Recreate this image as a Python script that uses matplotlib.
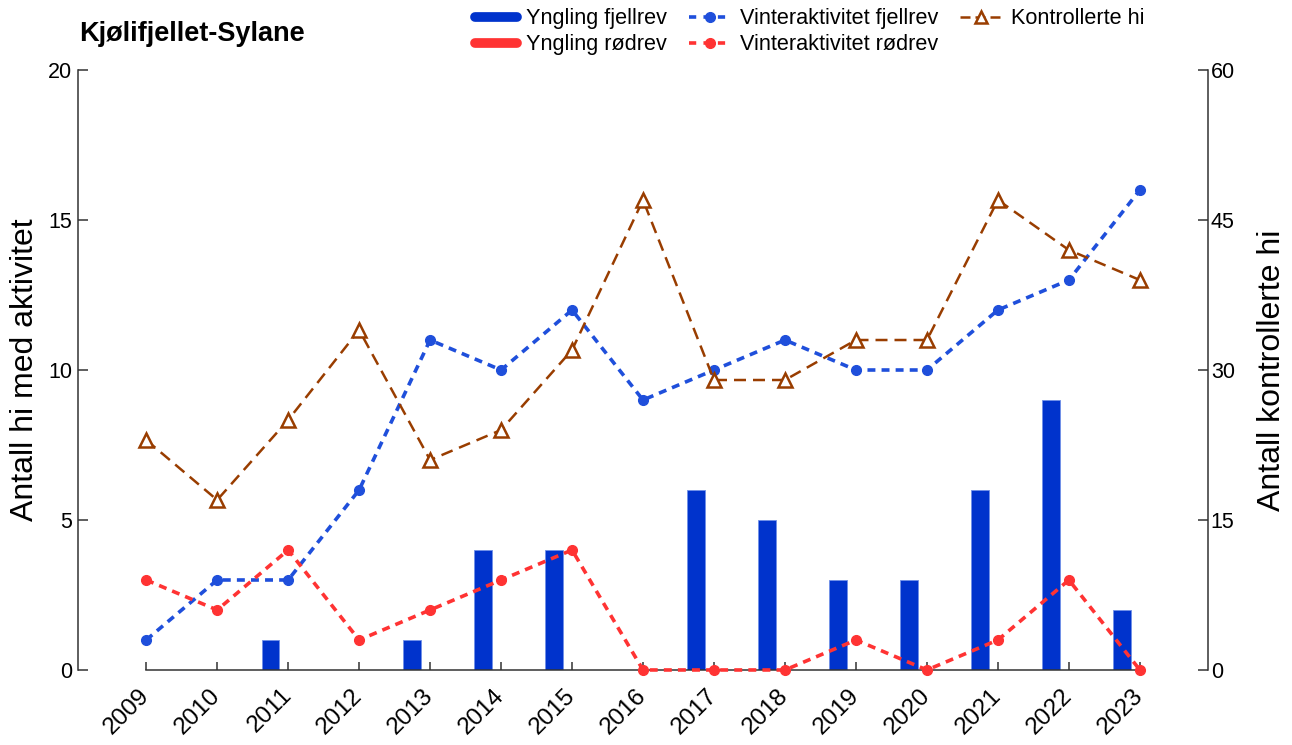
"""Kjølifjellet-Sylane: yngling, vinteraktivitet og kontrollerte hi."""

import matplotlib

matplotlib.use("Agg")
import matplotlib.pyplot as plt
import numpy as np
from matplotlib.lines import Line2D

plt.rcParams["font.family"] = ["Liberation Sans", "DejaVu Sans"]

years = np.arange(2009, 2024)
yngling_fjellrev = [0, 0, 1, 0, 1, 4, 4, 0, 6, 5, 3, 3, 6, 9, 2]
yngling_rodrev = [0, 0, 0, 0, 0, 0, 0, 0, 0, 0, 0, 0, 0, 0, 0]
vinter_fjellrev = [1, 3, 3, 6, 11, 10, 12, 9, 10, 11, 10, 10, 12, 13, 16]
vinter_rodrev = [3, 2, 4, 1, 2, 3, 4, 0, 0, 0, 1, 0, 1, 3, 0]
kontrollerte_hi = [23, 17, 25, 34, 21, 24, 32, 47, 29, 29, 33, 33, 47, 42, 39]

BAR_BLUE = "#0033cc"
LINE_BLUE = "#1f4fdb"
RED = "#ff3333"
BROWN = "#993d00"
SPINE = "#333333"

fig = plt.figure(figsize=(12.92, 7.45), dpi=100)
ax = fig.add_axes([0.0604, 0.1007, 0.8746, 0.8053])
ax2 = ax.twinx()

# bars (rødrev is all zero, kept for completeness)
ax.bar(years - 0.25, yngling_fjellrev, width=0.25, color=BAR_BLUE,
       edgecolor="#7090e8", linewidth=0.6, zorder=2)
ax.bar(years, yngling_rodrev, width=0.25, color=RED, linewidth=0, zorder=2)

ax.plot(years, vinter_fjellrev, color=LINE_BLUE, lw=2.6, dashes=(2.2, 1.7),
        marker="o", markersize=7, zorder=3, clip_on=False)
ax.plot(years, vinter_rodrev, color=RED, lw=2.6, dashes=(2.2, 1.7),
        marker="o", markersize=7, zorder=3, clip_on=False)

ax2.plot(years, kontrollerte_hi, color=BROWN, lw=1.8, dashes=(4.8, 2.8),
         marker="^", markersize=10, markerfacecolor="white",
         markeredgecolor=BROWN, markeredgewidth=1.8, clip_on=False)

ax.set_xlim(2008.04, 2023.96)
ax.set_ylim(0, 20)
ax2.set_ylim(0, 60)
ax.set_yticks([0, 5, 10, 15, 20])
ax2.set_yticks([0, 15, 30, 45, 60])
ax.set_xticks(years)
ax.set_xticklabels([str(y) for y in years], rotation=45, ha="right",
                   va="center", rotation_mode="anchor")

for a in (ax, ax2):
    a.spines["top"].set_visible(False)
    for s in a.spines.values():
        s.set_color(SPINE)
        s.set_linewidth(1.1)
ax.spines["right"].set_visible(False)
ax.spines["bottom"].set_bounds(2009, 2023)
ax2.spines["left"].set_visible(False)
ax2.spines["bottom"].set_visible(False)

ax.tick_params(axis="y", direction="in", length=7, width=1.1, color=SPINE,
               labelsize=15.5, pad=4)
ax.tick_params(axis="x", direction="in", length=6, width=1.1, color=SPINE,
               labelsize=17.5, pad=16)
ax2.tick_params(axis="y", direction="in", length=7, width=1.1, color=SPINE,
                labelsize=15.5, pad=2)

ax.set_ylabel("Antall hi med aktivitet", fontsize=23, labelpad=6)
ax2.set_ylabel("Antall kontrollerte hi", fontsize=23, labelpad=16)

fig.text(0.061, 0.955, "Kjølifjellet-Sylane", fontsize=19.5,
         fontweight="bold", va="center", ha="left")

handles = [
    Line2D([], [], color=BAR_BLUE, lw=7, solid_capstyle="round"),
    Line2D([], [], color=RED, lw=7, solid_capstyle="round"),
    Line2D([], [], color=LINE_BLUE, lw=2.6, dashes=(2, 2), marker="o", markersize=7),
    Line2D([], [], color=RED, lw=2.6, dashes=(2, 2), marker="o", markersize=7),
    Line2D([], [], color=BROWN, lw=1.8, dashes=(4, 2), marker="^", markersize=9,
           markerfacecolor="white", markeredgecolor=BROWN, markeredgewidth=1.8),
]
labels = ["Yngling fjellrev", "Yngling rødrev", "Vinteraktivitet fjellrev",
          "Vinteraktivitet rødrev", "Kontrollerte hi"]
fig.legend(handles, labels, ncol=3, frameon=False, fontsize=15.6,
           loc="upper right", bbox_to_anchor=(0.8975, 1.009),
           handlelength=1.9, handletextpad=0.45, columnspacing=1.0,
           labelspacing=0.22, borderpad=0.2)

fig.savefig("out.png", dpi=100)
